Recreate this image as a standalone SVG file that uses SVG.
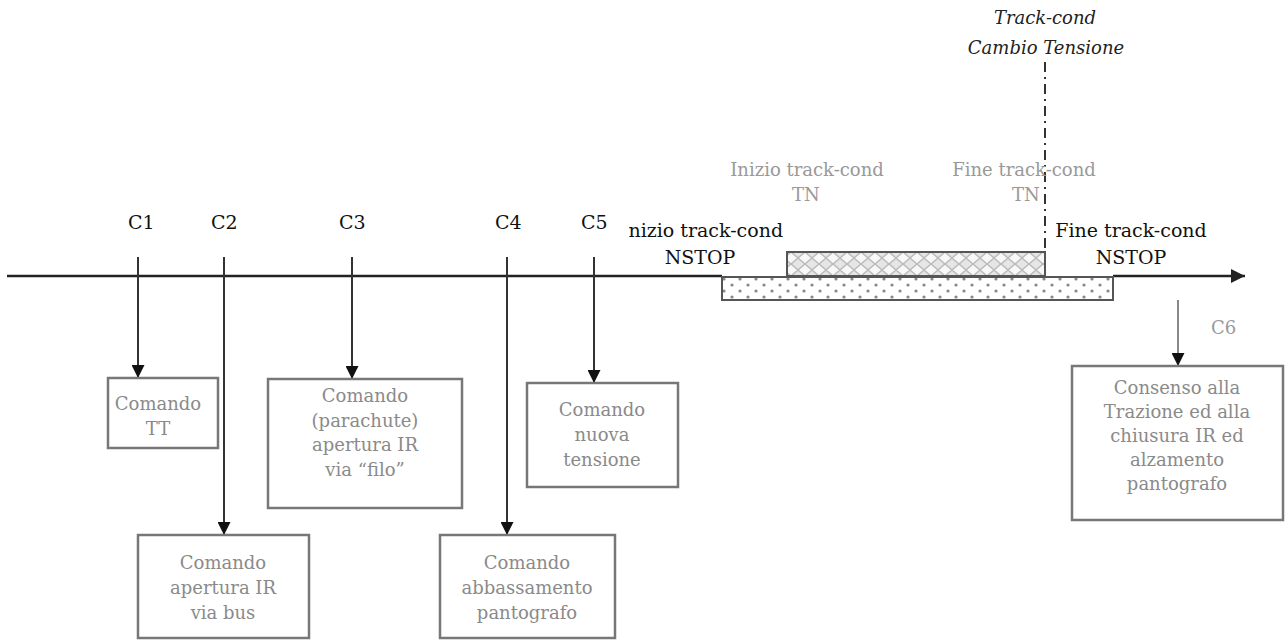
<svg xmlns="http://www.w3.org/2000/svg" width="1287" height="642" viewBox="0 0 1287 642">
<style>
text{font-family:"DejaVu Serif","Liberation Serif","Times New Roman",serif;}
.lbl{font-size:19px;fill:#111;}
.box{fill:#fff;stroke:#777;stroke-width:2.5;}
.bt{font-size:18px;fill:#8a8a8a;text-anchor:middle;}
.gt{font-size:18px;fill:#999;}
.bk{font-size:19px;fill:#111;text-anchor:middle;}
.it{font-size:18px;font-style:italic;fill:#222;text-anchor:middle;}
.cn{stroke:#333;stroke-width:2;fill:none;}
</style>
<defs>
<marker id="ah" viewBox="0 0 10 10" refX="10" refY="5" markerWidth="13" markerHeight="13" markerUnits="userSpaceOnUse" orient="auto">
<path d="M0,0 L10,5 L0,10 z" fill="#111"/>
</marker>
<marker id="ax" viewBox="0 0 10 10" refX="10" refY="5" markerWidth="18" markerHeight="14" markerUnits="userSpaceOnUse" orient="auto">
<path d="M0,0 L10,5 L0,10 z" fill="#222"/>
</marker>
<pattern id="dots" width="16" height="12" patternUnits="userSpaceOnUse">
<rect width="16" height="12" fill="#fff"/>
<circle cx="4" cy="3" r="1.6" fill="#888"/>
<circle cx="12" cy="9" r="1.6" fill="#888"/>
</pattern>
<pattern id="lat" width="14" height="12" patternUnits="userSpaceOnUse">
<rect width="14" height="12" fill="#e6e6e6"/>
<path d="M0,6 L7,0 L14,6 L7,12 z" fill="#f8f8f8" stroke="#bbb" stroke-width="1.5"/>
</pattern>
<clipPath id="clipL"><rect x="629" y="200" width="200" height="80"/></clipPath>
</defs>

<g id="connectors">
<line x1="7" y1="276" x2="722" y2="276" stroke="#222" stroke-width="2.5"/>
<line x1="1113" y1="276" x2="1245" y2="276" stroke="#222" stroke-width="2.5" marker-end="url(#ax)"/>
<line class="cn" x1="138" y1="257" x2="138" y2="378" marker-end="url(#ah)"/>
<line class="cn" x1="224" y1="257" x2="224" y2="535" marker-end="url(#ah)"/>
<line class="cn" x1="352" y1="257" x2="352" y2="379" marker-end="url(#ah)"/>
<line class="cn" x1="507" y1="257" x2="507" y2="535" marker-end="url(#ah)"/>
<line class="cn" x1="594" y1="257" x2="594" y2="383" marker-end="url(#ah)"/>
<line x1="1178" y1="300" x2="1178" y2="366" stroke="#888" stroke-width="2" marker-end="url(#ah)"/>
<line x1="1045" y1="62" x2="1045" y2="300" stroke="#333" stroke-width="2" stroke-dasharray="10 5 2 5"/>
</g>

<g id="bar-nstop">
<rect x="722" y="277" width="391" height="23" fill="url(#dots)" stroke="#555" stroke-width="2"/>
</g>
<g id="bar-tn">
<rect x="787" y="252" width="258" height="24" fill="url(#lat)" stroke="#555" stroke-width="2"/>
</g>

<g id="labels">
<text class="lbl" x="128" y="229">C1</text>
<text class="lbl" x="211" y="229">C2</text>
<text class="lbl" x="339" y="229">C3</text>
<text class="lbl" x="495" y="229">C4</text>
<text class="lbl" x="581" y="229">C5</text>
<text class="gt" x="1211" y="334">C6</text>
</g>

<g id="nstop-start">
<text class="bk" clip-path="url(#clipL)"><tspan x="702" y="237">Inizio track-cond</tspan><tspan x="700" y="264">NSTOP</tspan></text>
</g>
<g id="nstop-end">
<text class="bk"><tspan x="1131" y="237">Fine track-cond</tspan><tspan x="1131" y="264">NSTOP</tspan></text>
</g>
<g id="tn-start">
<text class="gt" text-anchor="middle"><tspan x="807" y="176">Inizio track-cond</tspan><tspan x="806" y="201">TN</tspan></text>
</g>
<g id="tn-end">
<text class="gt" text-anchor="middle"><tspan x="1024" y="176">Fine track-cond</tspan><tspan x="1026" y="201">TN</tspan></text>
</g>
<g id="cambio">
<text class="it"><tspan x="1045" y="24">Track-cond</tspan><tspan x="1046" y="54">Cambio Tensione</tspan></text>
</g>

<g id="c1-box">
<rect class="box" x="108" y="378" width="110" height="70"/>
<text class="bt"><tspan x="158" y="410">Comando</tspan><tspan x="158" y="435">TT</tspan></text>
</g>
<g id="c2-box">
<rect class="box" x="138" y="535" width="171" height="103"/>
<text class="bt"><tspan x="223" y="569">Comando</tspan><tspan x="223" y="594">apertura IR</tspan><tspan x="223" y="619">via bus</tspan></text>
</g>
<g id="c3-box">
<rect class="box" x="268" y="379" width="194" height="129"/>
<text class="bt"><tspan x="365" y="402">Comando</tspan><tspan x="365" y="427">(parachute)</tspan><tspan x="365" y="451">apertura IR</tspan><tspan x="365" y="476">via “filo”</tspan></text>
</g>
<g id="c4-box">
<rect class="box" x="440" y="535" width="175" height="103"/>
<text class="bt"><tspan x="527" y="569">Comando</tspan><tspan x="527" y="594">abbassamento</tspan><tspan x="527" y="619">pantografo</tspan></text>
</g>
<g id="c5-box">
<rect class="box" x="527" y="383" width="151" height="104"/>
<text class="bt"><tspan x="602" y="416">Comando</tspan><tspan x="602" y="441">nuova</tspan><tspan x="602" y="466">tensione</tspan></text>
</g>
<g id="c6-box">
<rect class="box" x="1072" y="366" width="211" height="154"/>
<text class="bt"><tspan x="1177" y="394">Consenso alla</tspan><tspan x="1177" y="418">Trazione ed alla</tspan><tspan x="1177" y="442">chiusura IR ed</tspan><tspan x="1177" y="466">alzamento</tspan><tspan x="1177" y="490">pantografo</tspan></text>
</g>
</svg>
